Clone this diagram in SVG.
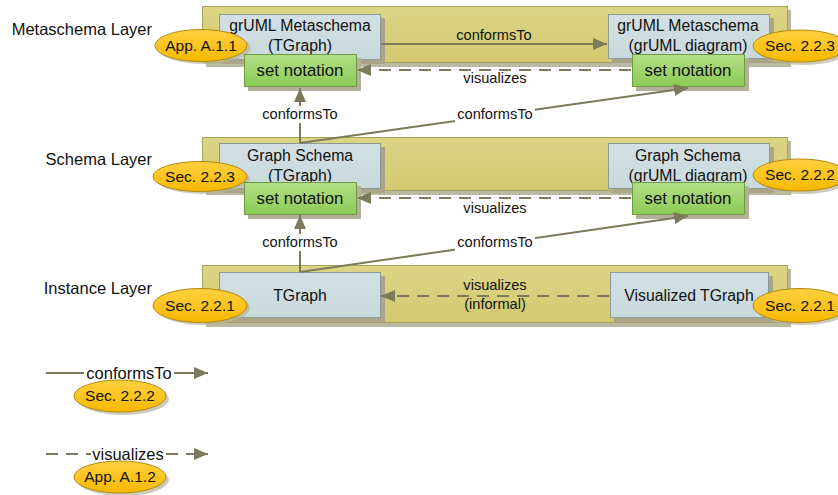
<svg xmlns="http://www.w3.org/2000/svg" width="838" height="495" viewBox="0 0 838 495">
  <defs>
    <linearGradient id="gBand" x1="0" y1="0" x2="0" y2="1">
      <stop offset="0" stop-color="#dcd585"/>
      <stop offset="1" stop-color="#d2c970"/>
    </linearGradient>
    <linearGradient id="gBox" x1="0" y1="0" x2="0" y2="1">
      <stop offset="0" stop-color="#d3e0e3"/>
      <stop offset="1" stop-color="#c8d9dc"/>
    </linearGradient>
    <linearGradient id="gSet" x1="0" y1="0" x2="0" y2="1">
      <stop offset="0" stop-color="#b2de86"/>
      <stop offset="1" stop-color="#8ccb55"/>
    </linearGradient>
    <linearGradient id="gTag" x1="0" y1="0" x2="0" y2="1">
      <stop offset="0" stop-color="#ffd040"/>
      <stop offset="1" stop-color="#f8b800"/>
    </linearGradient>
    <marker id="arr" viewBox="0 0 14 12" refX="14" refY="6" markerWidth="14" markerHeight="12" markerUnits="userSpaceOnUse" orient="auto">
      <path d="M0,0 L14,6 L0,12 Z" fill="#7c7a5a"/>
    </marker>
  </defs>
  <style>
    text { font-family: "Liberation Sans", Arial, sans-serif; fill: #111; }
    .band { fill: url(#gBand); stroke: #a9a25c; stroke-width: 1; }
    .bandsh { fill: #b9b8a0; }
    .box { fill: url(#gBox); stroke: #8b9a98; stroke-width: 1; }
    .boxsh { fill: #a9a586; }
    .set { fill: url(#gSet); stroke: #6f9a44; stroke-width: 1; }
    .setsh { fill: #b2b09a; }
    .tag { fill: url(#gTag); stroke: #b38a10; stroke-width: 1; }
    .tagsh { fill: #b7b39a; opacity: 0.7; }
    .t { font-size: 15.8px; text-anchor: middle; }
    .st { font-size: 16.8px; text-anchor: middle; }
    .tg { font-size: 15.5px; text-anchor: middle; }
    .lay { font-size: 16.5px; text-anchor: end; }
    .lbl { font-size: 14.6px; text-anchor: middle; }
    .leg { font-size: 16.5px; text-anchor: middle; }
    .conf { fill: none; stroke: #7c7a5a; stroke-width: 2; }
    .vis { fill: none; stroke: #7c7a5a; stroke-width: 2; stroke-dasharray: 12 8; }
    .bg { fill: #ffffff; }
  </style>

  <!-- layer bands -->
  <g id="layer-metaschema">
    <rect class="bandsh" x="206" y="10" width="585" height="57"/>
    <rect class="band" x="202.5" y="6.5" width="585" height="56"/>
    <text class="lay" x="152" y="35">Metaschema Layer</text>
  </g>
  <g id="layer-schema">
    <rect class="bandsh" x="206" y="141" width="585" height="54"/>
    <rect class="band" x="202.5" y="137.5" width="585" height="53"/>
    <text class="lay" x="152" y="165">Schema Layer</text>
  </g>
  <g id="layer-instance">
    <rect class="bandsh" x="206" y="269" width="585" height="58"/>
    <rect class="band" x="202.5" y="265.5" width="585" height="57"/>
    <text class="lay" x="152" y="294">Instance Layer</text>
  </g>

  <!-- metaschema nodes -->
  <g id="node-meta-tgraph">
    <rect class="boxsh" x="223" y="18" width="162" height="46"/>
    <rect class="box" x="219.5" y="14.5" width="161" height="45"/>
    <text class="t" x="300" y="31">grUML Metaschema</text>
    <text class="t" x="300" y="51">(TGraph)</text>
  </g>
  <g id="node-meta-diagram">
    <rect class="boxsh" x="612" y="18" width="162" height="45"/>
    <rect class="box" x="608.5" y="14.5" width="161" height="44"/>
    <text class="t" x="688" y="31">grUML Metaschema</text>
    <text class="t" x="688" y="51">(grUML diagram)</text>
  </g>
  <g id="tag-meta-left">
    <ellipse class="tagsh" cx="204" cy="48" rx="47" ry="16"/>
    <ellipse class="tag" cx="201" cy="45.5" rx="46" ry="16"/>
    <text class="tg" x="201" y="51">App. A.1.1</text>
  </g>
  <g id="tag-meta-right">
    <ellipse class="tagsh" cx="803" cy="49" rx="47" ry="16"/>
    <ellipse class="tag" cx="800" cy="46" rx="47" ry="16"/>
    <text class="tg" x="800" y="51">Sec. 2.2.3</text>
  </g>
  <g id="node-meta-set-left">
    <rect class="setsh" x="248" y="58" width="113" height="33"/>
    <rect class="set" x="244.5" y="54.5" width="112" height="32"/>
    <text class="st" x="300" y="76">set notation</text>
  </g>
  <g id="node-meta-set-right">
    <rect class="setsh" x="636" y="58" width="113" height="33"/>
    <rect class="set" x="632.5" y="54.5" width="112" height="32"/>
    <text class="st" x="688" y="76">set notation</text>
  </g>

  <!-- schema nodes -->
  <g id="node-schema-tgraph">
    <rect class="boxsh" x="223" y="147" width="162" height="46"/>
    <rect class="box" x="219.5" y="143.5" width="161" height="45"/>
    <text class="t" x="300" y="161">Graph Schema</text>
    <text class="t" x="300" y="181">(TGraph)</text>
  </g>
  <g id="node-schema-diagram">
    <rect class="boxsh" x="612" y="147" width="162" height="46"/>
    <rect class="box" x="608.5" y="143.5" width="161" height="45"/>
    <text class="t" x="688" y="161">Graph Schema</text>
    <text class="t" x="688" y="181">(grUML diagram)</text>
  </g>
  <g id="tag-schema-left">
    <ellipse class="tagsh" cx="203" cy="179" rx="47" ry="15"/>
    <ellipse class="tag" cx="200" cy="176.5" rx="47" ry="15"/>
    <text class="tg" x="200" y="182">Sec. 2.2.3</text>
  </g>
  <g id="tag-schema-right">
    <ellipse class="tagsh" cx="803" cy="178" rx="47" ry="16"/>
    <ellipse class="tag" cx="800" cy="175" rx="47" ry="16"/>
    <text class="tg" x="800" y="180">Sec. 2.2.2</text>
  </g>
  <g id="node-schema-set-left">
    <rect class="setsh" x="248" y="186" width="113" height="33"/>
    <rect class="set" x="244.5" y="182.5" width="112" height="32"/>
    <text class="st" x="300" y="204">set notation</text>
  </g>
  <g id="node-schema-set-right">
    <rect class="setsh" x="636" y="186" width="113" height="33"/>
    <rect class="set" x="632.5" y="182.5" width="112" height="32"/>
    <text class="st" x="688" y="204">set notation</text>
  </g>

  <!-- instance nodes -->
  <g id="node-tgraph">
    <rect class="boxsh" x="223" y="276" width="162" height="46"/>
    <rect class="box" x="219.5" y="272.5" width="161" height="45"/>
    <text class="t" x="300" y="301">TGraph</text>
  </g>
  <g id="node-visualized-tgraph">
    <rect class="boxsh" x="614" y="276" width="159" height="46"/>
    <rect class="box" x="610.5" y="272.5" width="158" height="45"/>
    <text class="t" x="689" y="301">Visualized TGraph</text>
  </g>
  <g id="tag-instance-left">
    <ellipse class="tagsh" cx="203" cy="308" rx="47" ry="17"/>
    <ellipse class="tag" cx="200" cy="305.5" rx="47" ry="17"/>
    <text class="tg" x="200" y="311">Sec. 2.2.1</text>
  </g>
  <g id="tag-instance-right">
    <ellipse class="tagsh" cx="803" cy="308" rx="47" ry="17"/>
    <ellipse class="tag" cx="800" cy="305.5" rx="47" ry="17"/>
    <text class="tg" x="800" y="311">Sec. 2.2.1</text>
  </g>

  <!-- connectors -->
  <g id="connectors">
    <line class="conf" x1="381" y1="44" x2="607" y2="44" marker-end="url(#arr)"/>
    <text class="lbl" x="494" y="40">conformsTo</text>
    <line class="vis" x1="631" y1="70" x2="357" y2="70" marker-end="url(#arr)"/>
    <text class="lbl" x="495" y="83">visualizes</text>

    <line class="conf" x1="300" y1="143" x2="300" y2="88" marker-end="url(#arr)"/>
    <line class="conf" x1="300" y1="143" x2="688" y2="88" marker-end="url(#arr)"/>
    <rect class="bg" x="260" y="106" width="80" height="17"/>
    <text class="lbl" x="300" y="119">conformsTo</text>
    <rect class="bg" x="455" y="106" width="80" height="17"/>
    <text class="lbl" x="495" y="119">conformsTo</text>

    <line class="vis" x1="631" y1="198" x2="357" y2="198" marker-end="url(#arr)"/>
    <text class="lbl" x="495" y="213">visualizes</text>

    <line class="conf" x1="300" y1="272" x2="300" y2="215" marker-end="url(#arr)"/>
    <line class="conf" x1="300" y1="272" x2="688" y2="216" marker-end="url(#arr)"/>
    <rect class="bg" x="260" y="234" width="80" height="17"/>
    <text class="lbl" x="300" y="247">conformsTo</text>
    <rect class="bg" x="455" y="234" width="80" height="17"/>
    <text class="lbl" x="495" y="247">conformsTo</text>

    <line class="vis" x1="609" y1="296" x2="381" y2="296" marker-end="url(#arr)"/>
    <text class="lbl" x="495" y="290">visualizes</text>
    <text class="lbl" x="495" y="309">(informal)</text>
  </g>

  <!-- legend -->
  <g id="legend-conforms">
    <line class="conf" x1="46" y1="373" x2="208" y2="373" marker-end="url(#arr)"/>
    <rect class="bg" x="84" y="364" width="90" height="17"/>
    <text class="leg" x="129" y="379">conformsTo</text>
    <ellipse class="tagsh" cx="123" cy="399" rx="46" ry="16"/>
    <ellipse class="tag" cx="120" cy="396" rx="46" ry="16"/>
    <text class="tg" x="120" y="401">Sec. 2.2.2</text>
  </g>
  <g id="legend-visualizes">
    <line class="vis" x1="46" y1="454" x2="208" y2="454" marker-end="url(#arr)"/>
    <rect class="bg" x="91" y="445" width="74" height="17"/>
    <text class="leg" x="128" y="460">visualizes</text>
    <ellipse class="tagsh" cx="123" cy="480" rx="46" ry="16"/>
    <ellipse class="tag" cx="120" cy="477" rx="46" ry="16"/>
    <text class="tg" x="120" y="482">App. A.1.2</text>
  </g>
</svg>
